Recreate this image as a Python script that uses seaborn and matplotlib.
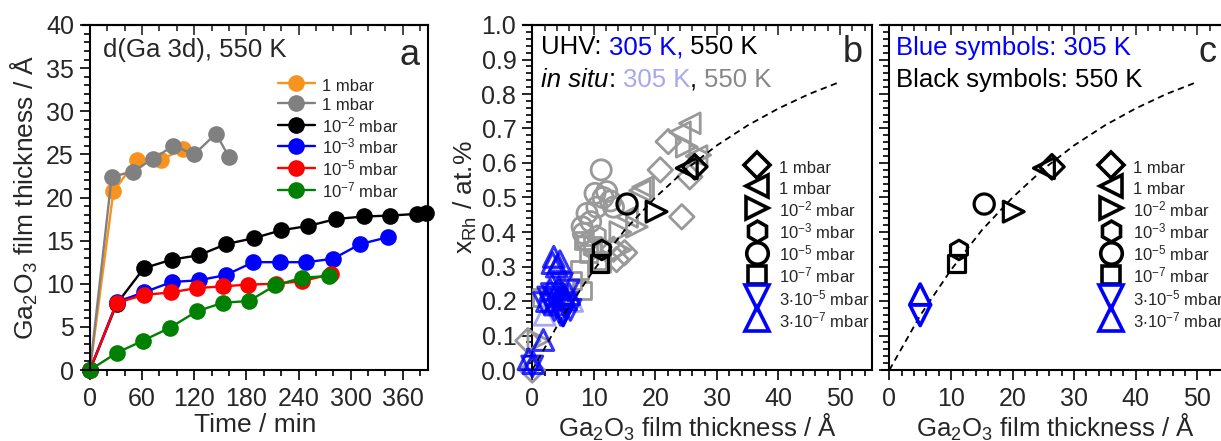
import numpy as np
import pandas as pd
import matplotlib
matplotlib.use("Agg")
import matplotlib.pyplot as plt
from matplotlib.lines import Line2D
from matplotlib.ticker import MultipleLocator, FormatStrFormatter
import seaborn as sns

# ---------------- data: Ga2O3 growth vs. time (panel a) ----------------
time_1mbar_a = [0, 27, 54, 82, 107]
thick_1mbar_a = [0, 20.7, 24.4, 24.4, 25.6]
time_1mbar_b = [0, 25, 49, 73, 96, 120, 145, 160]
thick_1mbar_b = [0, 22.4, 23.0, 24.5, 26.0, 25.0, 27.4, 24.7]
time_1e2 = [0, 31, 62, 94, 125, 157, 189, 220, 251, 283, 315, 345, 376, 387]
thick_1e2 = [0, 7.7, 11.8, 12.8, 13.3, 14.6, 15.3, 16.2, 16.7, 17.5, 17.8, 17.9, 18.1, 18.2]
time_1e3 = [0, 31, 62, 94, 125, 156, 188, 219, 249, 280, 311, 343]
thick_1e3 = [0, 7.9, 9.0, 10.2, 10.4, 11.0, 12.5, 12.5, 12.5, 12.9, 14.6, 15.4]
time_1e5 = [0, 31, 62, 93, 123, 153, 182, 214, 244, 277]
thick_1e5 = [0, 7.8, 8.7, 9.0, 9.5, 9.7, 9.9, 10.0, 10.3, 11.1]
time_1e7 = [0, 31, 61, 92, 123, 153, 183, 213, 244, 275]
thick_1e7 = [0, 2.0, 3.4, 4.9, 6.8, 7.8, 8.0, 9.8, 10.7, 10.9]

series_a = [
    ("1 mbar", "#F7931E", time_1mbar_a, thick_1mbar_a),
    ("1 mbar", "#808080", time_1mbar_b, thick_1mbar_b),
    ("10$^{-2}$ mbar", "#000000", time_1e2, thick_1e2),
    ("10$^{-3}$ mbar", "#0000FF", time_1e3, thick_1e3),
    ("10$^{-5}$ mbar", "#FF0000", time_1e5, thick_1e5),
    ("10$^{-7}$ mbar", "#008000", time_1e7, thick_1e7),
]

# ---------------- data: Rh surface fraction vs. film thickness ----------------
# in situ, 550 K (grey)
insitu_diamond_x = [24.3, 20.8, 22.1, 25.6, 13.7, 13.2, 15.0, -0.7, 0.0]
insitu_diamond_y = [0.444, 0.58, 0.662, 0.56, 0.32, 0.35, 0.34, 0.085, 0.0]
insitu_ltri_x = [25.6, 24.0, 26.7, 17.5, 15.4, 18.0]
insitu_ltri_y = [0.715, 0.689, 0.62, 0.52, 0.444, 0.53]
insitu_rtri_x = [25.1, 27.3, 14.3, 17.0, 14.3, 1.0]
insitu_rtri_y = [0.647, 0.623, 0.348, 0.415, 0.40, 0.085]
insitu_hex_x = [10.5, 11.2, 9.8, 8.8]
insitu_hex_y = [0.39, 0.355, 0.35, 0.37]
insitu_circ_x = [11.2, 10.2, 12.1, 12.7, 8.9, 8.1, 10.5, 8.3, 13.2, 11.5, 9.5]
insitu_circ_y = [0.58, 0.512, 0.517, 0.49, 0.454, 0.415, 0.472, 0.396, 0.472, 0.50, 0.43]
insitu_sq_x = [8.3, 9.1, 7.7, 8.1, 1.6, 10.6, 11.2, 9.8, 6.5]
insitu_sq_y = [0.376, 0.337, 0.29, 0.23, 0.21, 0.318, 0.308, 0.36, 0.26]

# in situ, 305 K (light blue)
insitu305_up_x = [2.0, 6.5, 3.8]
insitu305_up_y = [0.16, 0.20, 0.27]

# 305 K triangles
blue_down_x = [4.0, 5.7, 3.6, 4.6, 6.2, 1.9, 5.9, 2.6, 4.8, 0.0, 3.2, 5.2, 3.0]
blue_down_y = [0.203, 0.194, 0.174, 0.16, 0.174, 0.194, 0.23, 0.21, 0.25, 0.01, 0.22, 0.185, 0.19]
blue_up_x = [3.5, 4.5, 3.3, 4.0, 2.9, 5.1, 1.8, -0.6, 0.2, 2.4, 4.3, 6.0, 3.7, 5.5]
blue_up_y = [0.328, 0.315, 0.31, 0.30, 0.232, 0.213, 0.087, 0.031, 0.02, 0.20, 0.24, 0.22, 0.19, 0.205]

# UHV, 550 K (black) and 305 K averages (blue)
uhv_labels = ["1 mbar", "1 mbar", "10$^{-2}$ mbar", "10$^{-3}$ mbar",
              "10$^{-5}$ mbar", "10$^{-7}$ mbar"]
uhv_x = [26.4, 25.1, 20.2, 11.3, 15.4, 10.9]
uhv_y = [0.589, 0.585, 0.459, 0.348, 0.481, 0.309]
uhv305_labels = ["3$\\cdot$10$^{-5}$ mbar", "3$\\cdot$10$^{-7}$ mbar"]
uhv305_x = [5.0, 5.0]
uhv305_y = [0.159, 0.219]

# guide-to-the-eye curve
fit_x = [0, 5, 10, 15, 20, 25, 30, 35, 40, 45, 50]
fit_y = [0.0, 0.158, 0.29, 0.405, 0.50, 0.582, 0.651, 0.709, 0.758, 0.80, 0.835]

# ---------------- styling ----------------
sns.set_style("white")
plt.rcParams["font.family"] = ["Liberation Sans", "DejaVu Sans"]
plt.rcParams["mathtext.fontset"] = "custom"
plt.rcParams["mathtext.rm"] = "Liberation Sans"
plt.rcParams["mathtext.it"] = "Liberation Sans:italic"
plt.rcParams["mathtext.default"] = "regular"

W, H = 1221, 441
fig = plt.figure(figsize=(W / 100, H / 100), dpi=100)
ax_a = fig.add_axes([83 / W, 71 / H, 345 / W, 345 / H])
ax_b = fig.add_axes([523 / W, 71 / H, 349 / W, 345 / H])
ax_c = fig.add_axes([882 / W, 71 / H, 346 / W, 345 / H])

TICK_FS = 18
LABEL_FS = 19
TEXT_FS = 18.5
LEG_FS = 12


def frame(ax, xmaj, xmin, ymaj, ymin, xlim, ylim):
    ax.set_xlim(*xlim)
    ax.set_ylim(*ylim)
    for s in ax.spines.values():
        s.set_visible(True)
        s.set_linewidth(1.5)
        s.set_color("black")
    ax.spines["left"].set_position(("data", 0))
    ax.xaxis.set_major_locator(MultipleLocator(xmaj))
    ax.xaxis.set_minor_locator(MultipleLocator(xmin))
    ax.yaxis.set_major_locator(MultipleLocator(ymaj))
    ax.yaxis.set_minor_locator(MultipleLocator(ymin))
    ax.tick_params(which="both", direction="out", bottom=True, left=True,
                   top=False, right=False, width=1.2, color="black",
                   labelsize=TICK_FS)
    ax.tick_params(axis="x", which="both", pad=5.5)
    ax.tick_params(axis="y", which="both", pad=4.5)
    ax.tick_params(which="major", length=7)
    ax.tick_params(which="minor", length=4)
    top = ax.secondary_xaxis("top")
    top.xaxis.set_major_locator(MultipleLocator(xmaj))
    top.xaxis.set_minor_locator(MultipleLocator(xmin))
    top.tick_params(which="both", direction="in", width=1.2, labeltop=False)
    top.tick_params(which="major", length=7)
    top.tick_params(which="minor", length=4)
    top.spines["top"].set_linewidth(1.5)


# ---------------- panel a ----------------
for lab, col, t, d in series_a:
    sns.lineplot(x=t, y=d, ax=ax_a, color=col, marker="o", markersize=12,
                 markeredgewidth=0, linewidth=1.7, label=lab, sort=False,
                 estimator=None, clip_on=False)

frame(ax_a, 60, 20, 5, 1, (-8, 389), (0, 40))
ax_a.set_xlabel("Time / min", fontsize=LABEL_FS, labelpad=1)
ax_a.set_ylabel("Ga$_2$O$_3$ film thickness / Å", fontsize=LABEL_FS, labelpad=4)
ax_a.text(0.058, 0.928, "d(Ga 3d), 550 K", transform=ax_a.transAxes,
          fontsize=TEXT_FS, va="center", ha="left")
ax_a.text(0.948, 0.913, "a", transform=ax_a.transAxes, fontsize=26,
          va="center", ha="center")
ax_a.legend(loc="upper left", bbox_to_anchor=(0.565, 0.853), frameon=False,
            fontsize=LEG_FS, handlelength=2.2, handletextpad=0.45,
            labelspacing=0.05, handleheight=1.37, borderpad=0, borderaxespad=0)

# ---------------- panels b and c ----------------
GREY = "#999999"
LIGHTBLUE = "#A8A8F0"
BLUE = "#0000FF"

marker_sizes = {"D": 12.5, "<": 15, ">": 15, "h": 14, "o": 14.5, "s": 12.5,
                "v": 15, "^": 15}


def hollow(ax, x, y, marker, color, lw=2.0, alpha=1.0, zorder=3):
    sns.scatterplot(x=x, y=y, ax=ax, marker=marker, s=marker_sizes[marker] ** 2,
                    facecolor="none", edgecolor=color, linewidth=lw,
                    alpha=alpha, clip_on=False, zorder=zorder, legend=False)


uhv_markers = ["D", "<", ">", "h", "o", "s"]

# panel b: in situ data
hollow(ax_b, insitu_diamond_x, insitu_diamond_y, "D", GREY)
hollow(ax_b, insitu_ltri_x, insitu_ltri_y, "<", GREY)
hollow(ax_b, insitu_rtri_x, insitu_rtri_y, ">", GREY)
hollow(ax_b, insitu_hex_x, insitu_hex_y, "h", GREY)
hollow(ax_b, insitu_circ_x, insitu_circ_y, "o", GREY)
hollow(ax_b, insitu_sq_x, insitu_sq_y, "s", GREY)
hollow(ax_b, insitu305_up_x, insitu305_up_y, "^", LIGHTBLUE)
hollow(ax_b, blue_down_x, blue_down_y, "v", BLUE, lw=2.2, alpha=0.8, zorder=4)
hollow(ax_b, blue_up_x, blue_up_y, "^", BLUE, lw=2.2, alpha=0.8, zorder=4)

legend_anchor = {ax_b: (0.637, 0.616), ax_c: (0.628, 0.616)}
for ax in (ax_b, ax_c):
    sns.lineplot(x=fit_x, y=fit_y, ax=ax, color="black", linewidth=1.3,
                 linestyle=(0, (3.5, 2.5)), estimator=None, sort=False,
                 zorder=5, clip_on=False)
    for m, xx, yy in zip(uhv_markers, uhv_x, uhv_y):
        hollow(ax, [xx], [yy], m, "black", lw=2.3, zorder=6)
    hollow(ax, [uhv305_x[0]], [uhv305_y[0]], "v", BLUE, lw=2.6, zorder=6)
    hollow(ax, [uhv305_x[1]], [uhv305_y[1]], "^", BLUE, lw=2.6, zorder=6)

    handles = [Line2D([], [], ls="none", marker=m, ms=marker_sizes[m] + 1,
                      mfc="none", mec="black", mew=2.6, label=l)
               for m, l in zip(uhv_markers, uhv_labels)]
    handles += [Line2D([], [], ls="none", marker=m, ms=17, mfc="none",
                       mec=BLUE, mew=2.6, label=l)
                for m, l in zip(["v", "^"], uhv305_labels)]
    ax.legend(handles=handles, loc="upper left", bbox_to_anchor=legend_anchor[ax],
              frameon=False, fontsize=LEG_FS, handlelength=1.4, handletextpad=0.6,
              labelspacing=0.05, handleheight=1.47, borderpad=0, borderaxespad=0)
    ax.set_xlabel("Ga$_2$O$_3$ film thickness / Å", fontsize=18.5, labelpad=0)

frame(ax_b, 10, 2, 0.1, 0.02, (-1.5, 55.2), (0, 1))
frame(ax_c, 10, 2, 0.1, 0.02, (-1.2, 55), (0, 1))
ax_b.yaxis.set_major_formatter(FormatStrFormatter("%.1f"))
ax_c.tick_params(axis="y", labelleft=False)
ax_b.set_ylabel("x$_{Rh}$ / at.%", fontsize=LABEL_FS, labelpad=2)


def colored_line(ax, x, y, pieces, size=TEXT_FS):
    txt, col, sty = pieces[0]
    t = ax.text(x, y, txt, color=col, style=sty, fontsize=size,
                transform=ax.transAxes, va="center", ha="left")
    for txt, col, sty in pieces[1:]:
        t = ax.annotate(txt, xy=(1, 0), xycoords=t, va="bottom", ha="left",
                        color=col, style=sty, fontsize=size)


colored_line(ax_b, 0.052, 0.936, [("UHV: ", "black", "normal"),
                                   ("305 K,", BLUE, "normal"),
                                   (" 550 K", "black", "normal")])
colored_line(ax_b, 0.052, 0.84, [("in situ", "black", "italic"),
                                  (": ", "black", "normal"),
                                  ("305 K", LIGHTBLUE, "normal"),
                                  (", ", "black", "normal"),
                                  ("550 K", "#888888", "normal")])
ax_b.text(0.946, 0.92, "b", transform=ax_b.transAxes, fontsize=26,
          va="center", ha="center")

ax_c.text(0.040, 0.933, "Blue symbols: 305 K", color=BLUE, fontsize=TEXT_FS,
          transform=ax_c.transAxes, va="center", ha="left")
ax_c.text(0.040, 0.84, "Black symbols: 550 K", color="black", fontsize=TEXT_FS,
          transform=ax_c.transAxes, va="center", ha="left")
ax_c.text(0.942, 0.919, "c", transform=ax_c.transAxes, fontsize=26,
          va="center", ha="center")

fig.savefig("out.png", dpi=100)
